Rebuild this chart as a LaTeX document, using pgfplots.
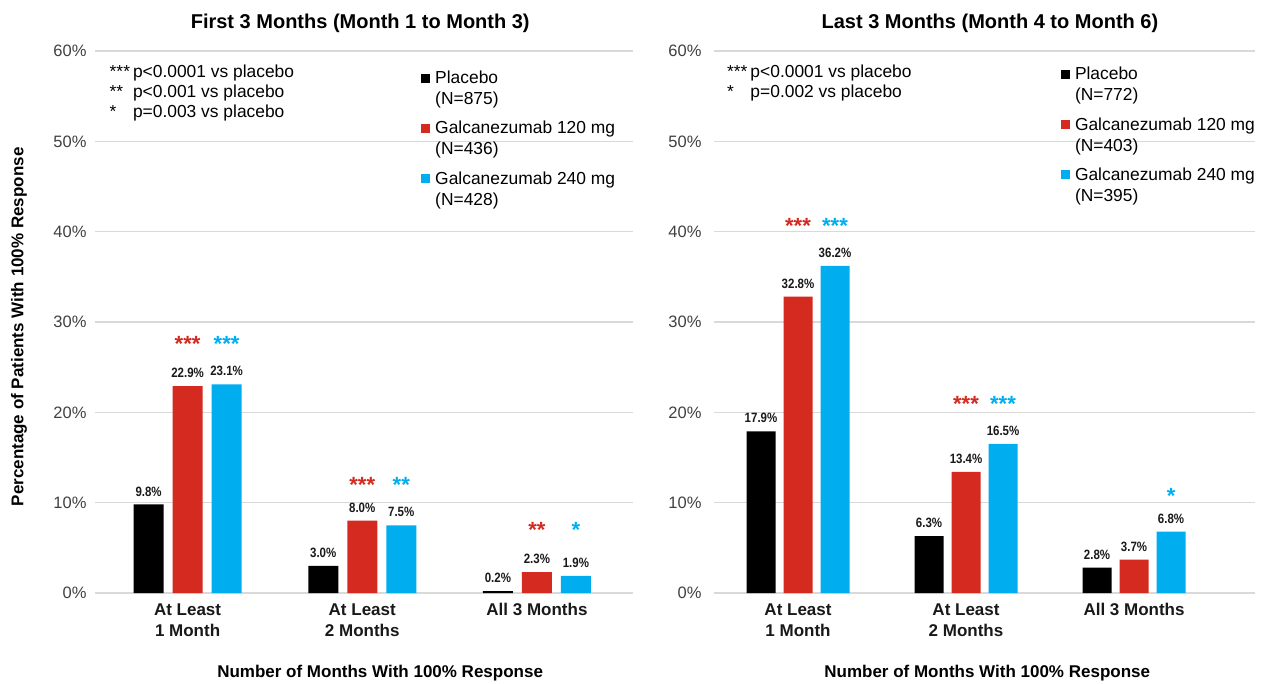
\documentclass[border=0pt]{standalone}
\usepackage{pgfplots}
\pgfplotsset{compat=1.18}
\usepackage{fontspec}
\setmainfont{Liberation Sans}
\newfontfamily\narrowfont[FakeStretch=0.85]{Liberation Sans}

\definecolor{gred}{HTML}{D42A20}
\definecolor{gblue}{HTML}{00AEEF}
\definecolor{gridgray}{HTML}{D9D9D9}
\definecolor{ticktext}{HTML}{404040}

\tikzset{
  stars/.style={font=\fontsize{22}{22}\selectfont\bfseries, anchor=base, inner sep=0pt},
  notes/.style={font=\fontsize{17.4}{20}\selectfont, anchor=base west, inner sep=0pt},
}

\pgfplotsset{
  panel/.style={
    scale only axis, height=542pt,
    ymin=0, ymax=60, enlargelimits=false,
    ybar, clip=false,
    ytick={0,10,20,30,40,50,60},
    yticklabels={0\%,10\%,20\%,30\%,40\%,50\%,60\%},
    yticklabel style={font=\fontsize{16.5}{19}\selectfont, color=ticktext},
    xtick={0,1,2},
    xticklabels={{At Least\\1 Month},{At Least\\2 Months},{All 3 Months}},
    xticklabel style={align=center, font=\fontsize{17}{21}\selectfont\bfseries,
      color=black!90, yshift=-7pt},
    ymajorgrids, grid style={gridgray, line width=1.3pt},
    axis line style={draw=none}, major tick length=0pt,
    /pgf/number format/assume math mode=true,
    nodes near coords={\pgfmathprintnumber[fixed,fixed zerofill,precision=1]{\pgfplotspointmeta}\%},
    nodes near coords style={font=\narrowfont\fontsize{13.5}{15}\selectfont\bfseries,
      color=black!90, inner sep=0pt, anchor=south, yshift=8pt},
    title style={font=\fontsize{20}{24}\selectfont\bfseries, anchor=base},
    xlabel style={font=\fontsize{17}{20}\selectfont\bfseries, anchor=center},
    legend style={draw=none, fill=none, anchor=north west, inner sep=0pt,
      font=\fontsize{17.4}{21}\selectfont, row sep=30pt, column sep=3pt,
      cells={anchor=base west, inner sep=0pt}},
    legend image code/.code={\fill[#1] (0pt,1pt) rectangle (9pt,10pt);},
  }
}

\begin{document}
\begin{tikzpicture}
\path[use as bounding box] (0pt,0pt) rectangle (1263pt,683pt);

% First 3 months
\begin{axis}[panel, at={(95pt,90pt)}, anchor=south west, width=538pt,
  xmin=-0.53, xmax=2.55, bar width=30pt,
  title={First 3 Months (Month 1 to Month 3)},
  title style={at={(0.493,1)}, yshift=17pt},
  xlabel={Number of Months With 100\% Response},
  xlabel style={at={(0.53,0)}, yshift=-80pt},
  ylabel={Percentage of Patients With 100\% Response},
  ylabel style={at={(0,0.491)}, anchor=center, yshift=76pt,
    font=\fontsize{17}{20}\selectfont\bfseries},
  yticklabel style={xshift=-5pt},
  legend style={at={(0.606,0.971)}},
]
\addplot[draw=none, fill=black, bar shift=-39pt] coordinates {(0,9.8) (1,3.0) (2,0.2)};
\addplot[draw=none, fill=gred, bar shift=0pt] coordinates {(0,22.9) (1,8.0) (2,2.3)};
\addplot[draw=none, fill=gblue, bar shift=39pt] coordinates {(0,23.1) (1,7.5) (2,1.9)};
\legend{{\begin{tabular}[t]{@{}l@{}}Placebo\\(N=875)\end{tabular}},
  {\begin{tabular}[t]{@{}l@{}}Galcanezumab 120 mg\\(N=436)\end{tabular}},
  {\begin{tabular}[t]{@{}l@{}}Galcanezumab 240 mg\\(N=428)\end{tabular}}}
\node[stars, gred] at (axis cs:0,26.7) {***};
\node[stars, gblue, xshift=39pt] at (axis cs:0,26.7) {***};
\node[stars, gred] at (axis cs:1,11.1) {***};
\node[stars, gblue, xshift=39pt] at (axis cs:1,11.1) {**};
\node[stars, gred] at (axis cs:2,6.1) {**};
\node[stars, gblue, xshift=39pt] at (axis cs:2,6.1) {*};
\node[notes] at (rel axis cs:0.027,0.952) {\begin{tabular}[t]{@{}l@{\hspace{3pt}}l@{}}
***& p<0.0001 vs placebo\\{}** & p<0.001 vs placebo\\{}* & p=0.003 vs placebo\end{tabular}};
\end{axis}

% Last 3 months
\begin{axis}[panel, at={(714pt,90pt)}, anchor=south west, width=541pt,
  xmin=-0.5, xmax=2.72, bar width=29pt,
  title={Last 3 Months (Month 4 to Month 6)},
  title style={at={(0.51,1)}, yshift=17pt},
  xlabel={Number of Months With 100\% Response},
  xlabel style={at={(0.505,0)}, yshift=-80pt},
  yticklabel style={xshift=-9pt},
  legend style={at={(0.641,0.978)}},
]
\addplot[draw=none, fill=black, bar shift=-37pt] coordinates {(0,17.9) (1,6.3) (2,2.8)};
\addplot[draw=none, fill=gred, bar shift=0pt] coordinates {(0,32.8) (1,13.4) (2,3.7)};
\addplot[draw=none, fill=gblue, bar shift=37pt] coordinates {(0,36.2) (1,16.5) (2,6.8)};
\legend{{\begin{tabular}[t]{@{}l@{}}Placebo\\(N=772)\end{tabular}},
  {\begin{tabular}[t]{@{}l@{}}Galcanezumab 120 mg\\(N=403)\end{tabular}},
  {\begin{tabular}[t]{@{}l@{}}Galcanezumab 240 mg\\(N=395)\end{tabular}}}
\node[stars, gred] at (axis cs:0,39.8) {***};
\node[stars, gblue, xshift=37pt] at (axis cs:0,39.8) {***};
\node[stars, gred] at (axis cs:1,20.1) {***};
\node[stars, gblue, xshift=37pt] at (axis cs:1,20.1) {***};
\node[stars, gblue, xshift=37pt] at (axis cs:2,9.9) {*};
\node[notes] at (rel axis cs:0.024,0.952) {\begin{tabular}[t]{@{}l@{\hspace{3pt}}l@{}}
***& p<0.0001 vs placebo\\{}* & p=0.002 vs placebo\end{tabular}};
\end{axis}
\end{tikzpicture}
\end{document}
